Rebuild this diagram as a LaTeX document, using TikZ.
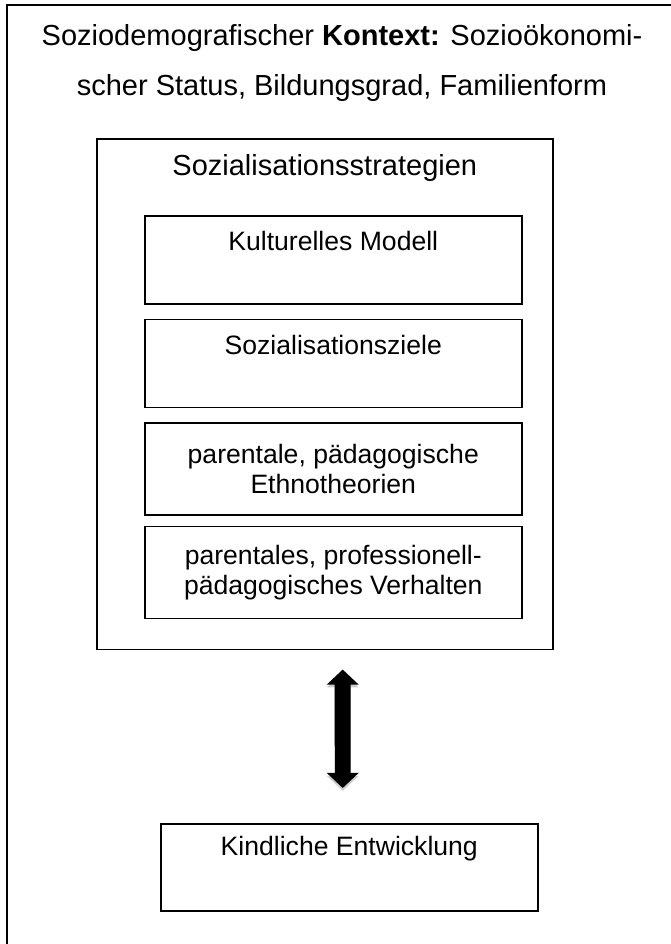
\documentclass[tikz,border=0pt]{standalone}
\usepackage{fontspec}
\setmainfont{Liberation Sans}
\usetikzlibrary{arrows.meta, positioning}

\begin{document}
\begin{tikzpicture}[
    x=0.4138pt, y=-0.4138pt,
    every node/.style={font=\fontsize{11pt}{12.6pt}\selectfont},
    frame/.style={draw, line width=0.65pt, inner sep=0pt, anchor=north west},
    layer/.style={frame, minimum width=156pt, align=center},
    twoway/.style={line width=6.6pt, {Triangle[width=12.8pt,length=6.2pt]}-{Triangle[width=12.8pt,length=6.2pt]}}
]

\useasboundingbox (0,0) rectangle (671,944);
\clip (0,0) rectangle (671,944);

% Outer context frame (runs off the right and bottom edge)
\draw[line width=0.75pt] (7,960) -- (7,5) -- (690,5);

% Context text
\node[font=\fontsize{12pt}{20.7pt}\selectfont, align=center, inner sep=0pt] (ctx) at (342,63)
    {Soziodemografischer \textbf{Kontext:} Sozioökonomi-\\scher Status, Bildungsgrad, Familienform};

% Strategies frame
\node[frame, minimum width=188.7pt, text height=15.3pt, text depth=196.1pt,
    font=\fontsize{12pt}{14pt}\selectfont] (strat) at (96,138) {Sozialisationsstrategien};

% Layers inside the frame
\node[layer, text height=14.5pt, text depth=21.9pt] (model) at (144,215) {Kulturelles Modell};
\node[layer, text height=14.5pt, text depth=21.9pt, below=5.8pt of model] (goals) {Sozialisationsziele};
\node[layer, minimum height=38.1pt, below=5.8pt of goals] (ethno) {parentale, pädagogische\\Ethnotheorien};
\node[layer, minimum height=38.1pt, below=4.1pt of ethno] (behav) {parentales, professionell-\\pädagogisches Verhalten};

% Child development
\node[layer, text height=13.2pt, text depth=22.8pt] (kind) at (160,823) {Kindliche Entwicklung};

% Two-way arrow (soft shadow first)
\draw[twoway, draw=black!20, shorten <=7.9pt, shorten >=14.5pt, transform canvas={yshift=-1.2pt}]
    ([xshift=7.4pt]strat.south) -- ([xshift=-2.7pt]kind.north);
\draw[twoway, shorten <=7.9pt, shorten >=14.5pt] ([xshift=7.4pt]strat.south) -- ([xshift=-2.7pt]kind.north);

\end{tikzpicture}
\end{document}
